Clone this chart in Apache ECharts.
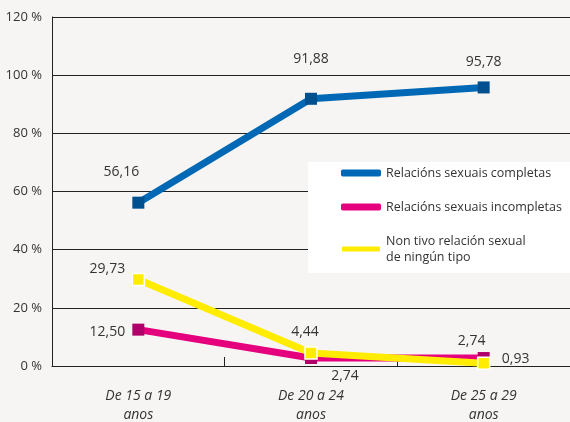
<!DOCTYPE html>
<html>
<head>
<meta charset="utf-8">
<script src="https://cdn.jsdelivr.net/npm/echarts@6/dist/echarts.min.js"></script>
<style>
  html, body { margin: 0; padding: 0; background: #f6f5f3; }
  #chart { width: 570px; height: 422px; }
</style>
</head>
<body>
<div id="chart"></div>
<script>
// categorías e valores (%)
var categorias = ['De 15 a 19\nanos', 'De 20 a 24\nanos', 'De 25 a 29\nanos'];
var nomes = ['Relacións sexuais completas', 'Relacións sexuais incompletas', 'Non tivo relación sexual\nde ningún tipo'];
var completas = [56.16, 91.88, 95.78];
var incompletas = [12.50, 2.74, 2.74];
var ningunha = [29.73, 4.44, 0.93];

var myChart = echarts.init(document.getElementById('chart'));

function fmt(v) {
    return v.toFixed(2).replace('.', ',');
}

// posicións das etiquetas [dx, dy] respecto ao centro do punto
function serie(nome, valores, corLinha, corPunto, offsets, borde) {
    return {
        name: nome,
        type: 'line',
        symbol: 'rect',
        symbolSize: 12,
        z: nome === nomes[2] ? 3 : 2,
        lineStyle: { color: corLinha, width: 7 },
        itemStyle: { color: corPunto, borderColor: borde || corPunto, borderWidth: borde ? 1.5 : 0 },
        data: valores.map(function (v, i) {
            return {
                value: v,
                label: {
                    show: true,
                    position: 'inside',
                    offset: offsets[i],
                    formatter: function (p) { return fmt(p.value); },
                    color: '#333',
                    fontSize: 14,
                    fontFamily: 'Open Sans'
                }
            };
        })
    };
}

myChart.setOption({
    animation: false,
    backgroundColor: '#f6f5f3',
    grid: { left: 52, right: 0, top: 17, bottom: 56, outerBoundsMode: 'none', containLabel: false },
    graphic: [{
        type: 'rect',
        shape: { x: 308, y: 162, width: 262, height: 111 },
        style: { fill: '#ffffff' },
        z: 5
    }],
    legend: {
        orient: 'vertical',
        left: 335,
        top: 160,
        itemWidth: 40,
        itemHeight: 7,
        itemGap: 18,
        z: 6,
        icon: 'roundRect',
        textStyle: { color: '#333', fontSize: 12.5, fontFamily: 'Open Sans', lineHeight: 16 },
        data: [
            { name: nomes[0], itemStyle: { color: '#0068b4' } },
            { name: nomes[1], itemStyle: { color: '#e5007e' } },
            { name: nomes[2], itemStyle: { color: '#ffec00' } }
        ]
    },
    xAxis: {
        type: 'category',
        data: categorias,
        boundaryGap: true,
        axisLine: { lineStyle: { color: '#222', width: 1 } },
        axisTick: { show: true, inside: true, length: 9, lineStyle: { color: '#222' } },
        axisLabel: {
            color: '#333',
            fontSize: 14,
            fontStyle: 'italic',
            fontFamily: 'Open Sans',
            lineHeight: 19,
            margin: 21
        }
    },
    yAxis: {
        type: 'value',
        min: 0,
        max: 120,
        interval: 20,
        axisLine: { show: true, lineStyle: { color: '#222', width: 1 } },
        axisTick: { show: false },
        splitLine: { lineStyle: { color: '#222', width: 1 } },
        axisLabel: {
            formatter: '{value} %',
            color: '#333',
            fontSize: 13,
            fontFamily: 'Open Sans',
            margin: 10
        }
    },
    series: [
        serie(nomes[0], completas, '#0068b4', '#004f8e', [[-17, -31], [0, -40], [0, -25]]),
        serie(nomes[1], incompletas, '#e5007e', '#b0006a', [[-31, 2], [34, 18], [-12, -17]]),
        serie(nomes[2], ningunha, '#ffec00', '#ffec00', [[-31, -11], [-6, -21], [32, -4]], '#ffffff')
    ]
});
</script>
</body>
</html>
